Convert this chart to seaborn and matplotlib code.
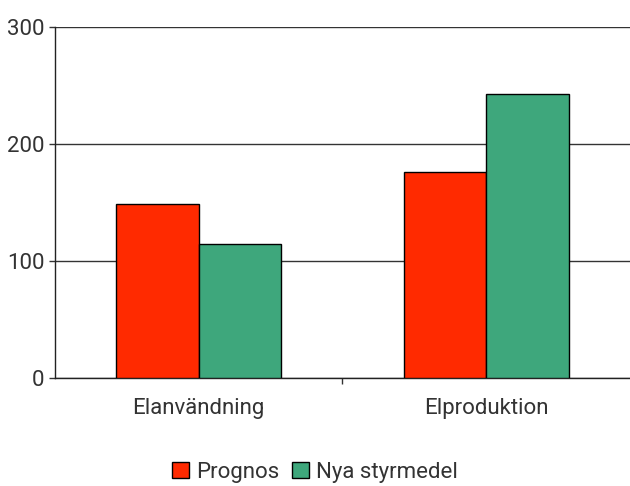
import matplotlib
matplotlib.use("Agg")
import matplotlib.pyplot as plt
import seaborn as sns
import pandas as pd
from matplotlib.patches import Patch

categories = ["Elanvändning", "Elproduktion"]
series = ["Prognos", "Nya styrmedel"]
prognos = [149, 176]
nya = [115, 243]
colors = ["#FF2A00", "#3EA77C"]

df = pd.DataFrame({
    "cat": categories * 2,
    "serie": [series[0]] * 2 + [series[1]] * 2,
    "val": prognos + nya,
})

sns.set_style("white")
plt.rcParams["font.family"] = ["Roboto", "DejaVu Sans"]

fig = plt.figure(figsize=(6.3, 4.86), dpi=100)
ax = fig.add_axes([0.0873, 0.222, 0.9127, 0.722])
sns.barplot(data=df, x="cat", y="val", hue="serie", palette=colors,
            width=0.575, edgecolor="black", linewidth=1, ax=ax, legend=False,
            saturation=1, zorder=3)
ax.set_xlim(-0.5, 1.5)
ax.set_ylim(0, 300)
ax.set_yticks([0, 100, 200, 300])
ax.yaxis.grid(True, color="#333333", linewidth=1, zorder=0)
ax.set_axisbelow(True)
for s in ["top", "right"]:
    ax.spines[s].set_visible(False)
for s in ["left", "bottom"]:
    ax.spines[s].set_color("#222222")
    ax.spines[s].set_linewidth(1)
ax.set_xlabel("")
ax.set_ylabel("")
ax.tick_params(axis="y", length=4.5, width=1, color="#333333", labelsize=16, labelcolor="#333333", pad=3, left=True)
ax.tick_params(axis="x", which="major", length=0, labelsize=16, labelcolor="#333333", pad=14)
ax.set_xticks([0.5], minor=True)
ax.tick_params(axis="x", which="minor", length=4, width=1, color="#333333", bottom=True)

handles = [Patch(facecolor=c, edgecolor="black", label=s) for c, s in zip(colors, series)]
leg = fig.legend(handles=handles, loc="center", bbox_to_anchor=(0.5, 0.028), ncol=2, frameon=False,
           fontsize=16, handlelength=0.75, handleheight=0.75, handletextpad=0.3, columnspacing=0.6,
           labelcolor="#333333")

fig.savefig("out.png", dpi=100)
